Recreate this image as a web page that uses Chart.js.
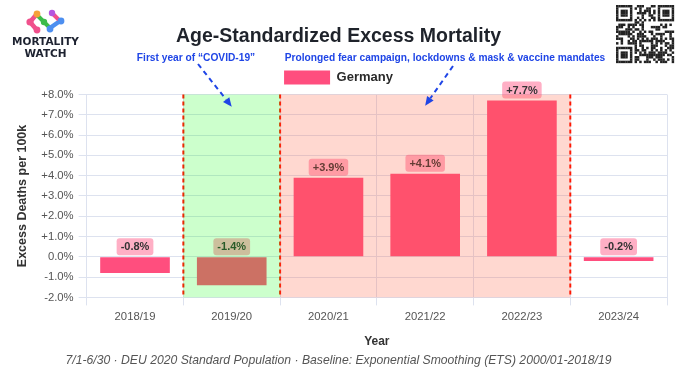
<!DOCTYPE html>
<html><head><meta charset="utf-8">
<script src="https://cdn.jsdelivr.net/npm/chart.js@4.4.0/dist/chart.umd.min.js"></script>
<style>html,body{margin:0;padding:0;background:#fff;}#wrap{width:680px;height:380px;}</style>
</head><body><div id="wrap"><canvas id="c" width="680" height="380"></canvas></div>
<script>
// ---- data ----
const categories = ['2018/19', '2019/20', '2020/21', '2021/22', '2022/23', '2023/24'];
const excessPct = [-0.8, -1.4, 3.9, 4.1, 7.7, -0.2];
const seriesName = 'Germany';
const yMin = -2, yMax = 8, yStep = 1;
const titleText = 'Age-Standardized Excess Mortality';
const xTitle = 'Year';
const yTitle = 'Excess Deaths per 100k';
const footerText = '7/1-6/30 · DEU 2020 Standard Population · Baseline: Exponential Smoothing (ETS) 2000/01-2018/19';
const periodFrom = ['2019/20', '2020/21'];
const periodTo = ['2019/20', '2022/23'];
const periodLabels = ['First year of “COVID-19”', 'Prolonged fear campaign, lockdowns & mask & vaccine mandates'];
const arrowTipValue = [7.4, 7.45];
const arrowTipCategory = ['2019/20', '2021/22'];

// ---- style ----
const FONT = "'Liberation Sans', Arial, Helvetica, sans-serif";
const BAR = 'rgb(255,78,126)';
const LABEL_BG = 'rgba(255,78,126,0.45)';
const PERIOD_FILL = ['rgba(0,255,0,0.2)', 'rgba(255,90,60,0.24)'];
const GRID = '#dde2ef';
const BLUE = '#1f45e6';
const periodTextPos = [[196, 58], [445, 58]];
const arrowTail = [[198, 64], [453, 66]];

Chart.defaults.font.family = FONT;

function fmtPct(v) { return (v > 0 ? '+' : '') + v.toFixed(1) + '%'; }

const overlayPlugin = {
  id: 'overlay',
  afterDatasetsDraw(chart) {
    const ctx = chart.ctx, x = chart.scales.x, a = chart.chartArea;
    const meta = chart.getDatasetMeta(0);
    // value labels
    ctx.save();
    ctx.font = 'bold 11px ' + FONT;
    ctx.textAlign = 'center';
    ctx.textBaseline = 'middle';
    meta.data.forEach((el, i) => {
      const txt = fmtPct(excessPct[i]);
      const w = ctx.measureText(txt).width + 8, h = 17;
      const anchor = Math.min(el.y, el.base);
      const bx = el.x - w / 2, by = anchor - 2 - h;
      ctx.fillStyle = LABEL_BG;
      ctx.beginPath();
      ctx.roundRect(bx, by, w, h, 3);
      ctx.fill();
      ctx.fillStyle = '#333';
      ctx.fillText(txt, el.x, by + h / 2 + 0.5);
    });
    ctx.restore();
    // period boxes
    const half = (x.getPixelForValue(1) - x.getPixelForValue(0)) / 2;
    const edges = [];
    periodFrom.forEach((f, i) => {
      const l = x.getPixelForValue(categories.indexOf(f)) - half;
      const r = x.getPixelForValue(categories.indexOf(periodTo[i])) + half;
      edges.push([l, r]);
    });
    ctx.save();
    ctx.strokeStyle = 'rgb(255,20,0)';
    ctx.lineWidth = 2;
    ctx.setLineDash([4, 3]);
    const xs = [];
    edges.forEach(([l, r]) => { [l, r].forEach(v => { if (!xs.some(q => Math.abs(q - v) < 1)) xs.push(v); }); });
    xs.forEach(v => { ctx.beginPath(); ctx.moveTo(v, a.top); ctx.lineTo(v, a.bottom); ctx.stroke(); });
    ctx.restore();
    edges.forEach(([l, r], i) => {
      ctx.fillStyle = PERIOD_FILL[i];
      ctx.fillRect(l, a.top, r - l, a.bottom - a.top);
    });
  },
  afterDraw(chart) {
    const ctx = chart.ctx, x = chart.scales.x, y = chart.scales.y;
    // period captions
    ctx.save();
    ctx.font = 'bold 10.2px ' + FONT;
    ctx.fillStyle = BLUE;
    ctx.textAlign = 'center';
    ctx.textBaseline = 'middle';
    periodLabels.forEach((t, i) => ctx.fillText(t, periodTextPos[i][0], periodTextPos[i][1]));
    // arrows
    arrowTipCategory.forEach((c, i) => {
      const tx = x.getPixelForValue(categories.indexOf(c));
      const ty = y.getPixelForValue(arrowTipValue[i]);
      const [sx, sy] = arrowTail[i];
      const ang = Math.atan2(ty - sy, tx - sx);
      const hl = 9;
      ctx.strokeStyle = BLUE;
      ctx.lineWidth = 2;
      ctx.setLineDash([5, 4]);
      ctx.beginPath();
      ctx.moveTo(sx, sy);
      ctx.lineTo(tx - Math.cos(ang) * hl, ty - Math.sin(ang) * hl);
      ctx.stroke();
      ctx.setLineDash([]);
      ctx.fillStyle = BLUE;
      ctx.beginPath();
      ctx.moveTo(tx, ty);
      ctx.lineTo(tx - Math.cos(ang) * hl + Math.sin(ang) * 4, ty - Math.sin(ang) * hl - Math.cos(ang) * 4);
      ctx.lineTo(tx - Math.cos(ang) * hl - Math.sin(ang) * 4, ty - Math.sin(ang) * hl + Math.cos(ang) * 4);
      ctx.closePath();
      ctx.fill();
    });
    ctx.restore();
    drawLogo(ctx);
    drawQR(ctx, 616, 5, 58);
  }
};

function drawLogo(ctx) {
  ctx.save();
  ctx.lineCap = 'round';
  const seg = (c, pts, w) => { ctx.strokeStyle = c; ctx.lineWidth = w; ctx.beginPath(); ctx.moveTo(pts[0][0], pts[0][1]); for (let k = 1; k < pts.length; k++) ctx.lineTo(pts[k][0], pts[k][1]); ctx.stroke(); };
  const dot = (c, px, py, r) => { ctx.fillStyle = c; ctx.beginPath(); ctx.arc(px, py, r, 0, Math.PI * 2); ctx.fill(); };
  seg('#f0508c', [[30, 22], [36, 15]], 4.5);
  seg('#f0508c', [[30, 22], [36, 29]], 4.5);
  seg('#3dbb4a', [[37, 15], [44, 22], [50, 28]], 4);
  seg('#4d8ff0', [[50, 28], [60, 21]], 4.5);
  seg('#f0508c', [[52, 13], [58, 19]], 4);
  dot('#f0508c', 30, 22, 3.6);
  dot('#f5a23a', 37, 14, 3.4);
  dot('#f0508c', 37, 30, 3.4);
  dot('#3dbb4a', 44, 22, 3.2);
  dot('#4d8ff0', 50, 29, 3.4);
  dot('#4d8ff0', 61, 21, 3.4);
  dot('#b456e0', 52, 13, 3.2);
  ctx.fillStyle = '#1d2230';
  ctx.font = 'bold 10.5px "DejaVu Sans", sans-serif';
  ctx.textAlign = 'center';
  ctx.textBaseline = 'middle';
  ctx.fillText('MORTALITY', 45.5, 42);
  ctx.fillText('WATCH', 45.5, 54);
  ctx.restore();
}

function drawQR(ctx, ox, oy, size) {
  const n = 25, m = size / n;
  const cell = (i, j) => {
    const inF = (a, b) => i >= a && i < a + 7 && j >= b && j < b + 7;
    const fin = (a, b) => { const di = i - a, dj = j - b; const d = Math.max(Math.abs(di - 3), Math.abs(dj - 3)); return d !== 2; };
    if (inF(0, 0)) return fin(0, 0);
    if (inF(0, n - 7)) return fin(0, n - 7);
    if (inF(n - 7, 0)) return fin(n - 7, 0);
    if ((i === 7 || j === 7) && (i < 8 && j < 8)) return false;
    if ((i === 7 && j >= n - 8) || (j === n - 8 && i < 8)) return false;
    if ((j === 7 && i >= n - 8) || (i === n - 8 && j < 8)) return false;
    if (i === 6) return j % 2 === 0;
    if (j === 6) return i % 2 === 0;
    const s = Math.sin(i * 12.9898 + j * 78.233) * 43758.5453;
    return (s - Math.floor(s)) > 0.5;
  };
  ctx.save();
  ctx.fillStyle = '#222';
  for (let i = 0; i < n; i++) for (let j = 0; j < n; j++) if (cell(i, j)) ctx.fillRect(ox + j * m, oy + i * m, m + 0.15, m + 0.15);
  ctx.restore();
}

new Chart(document.getElementById('c'), {
  type: 'bar',
  data: {
    labels: categories,
    datasets: [{
      label: seriesName,
      data: excessPct,
      backgroundColor: BAR,
      borderWidth: 0,
      categoryPercentage: 0.8,
      barPercentage: 0.9
    }]
  },
  options: {
    responsive: false,
    animation: false,
    devicePixelRatio: 1,
    layout: { padding: { top: 0, left: 10, right: 13, bottom: 0 } },
    plugins: {
      tooltip: { enabled: false },
      title: {
        display: true, text: titleText, color: '#1f232b',
        font: { size: 19.5, weight: 'bold' },
        padding: { top: 25, bottom: 12.1 }
      },
      legend: {
        display: true, position: 'top',
        labels: { boxWidth: 46, boxHeight: 14, padding: 10, color: '#2a2a2a', font: { size: 13, weight: 'bold' } }
      },
      subtitle: {
        display: true, position: 'bottom', text: footerText, color: '#555',
        font: { size: 12.2, style: 'italic' },
        padding: { top: 2, bottom: 12 }
      }
    },
    scales: {
      x: {
        type: 'category',
        grid: { offset: true, color: GRID, tickLength: 8 },
        border: { color: GRID },
        ticks: { color: '#555', font: { size: 11.3 }, padding: 5 },
        title: { display: true, text: xTitle, color: '#333', font: { size: 12, weight: 'bold' }, padding: { top: 6, bottom: 2 } }
      },
      y: {
        min: yMin, max: yMax,
        grid: { color: GRID, tickLength: 8 },
        border: { color: GRID },
        ticks: { stepSize: yStep, color: '#555', font: { size: 11.3 }, padding: 5, callback: v => fmtPct(v) },
        title: { display: true, text: yTitle, color: '#333', font: { size: 12.5, weight: 'bold' }, padding: { top: 4.8, bottom: 6.5 } }
      }
    }
  },
  plugins: [overlayPlugin]
});
</script></body></html>
